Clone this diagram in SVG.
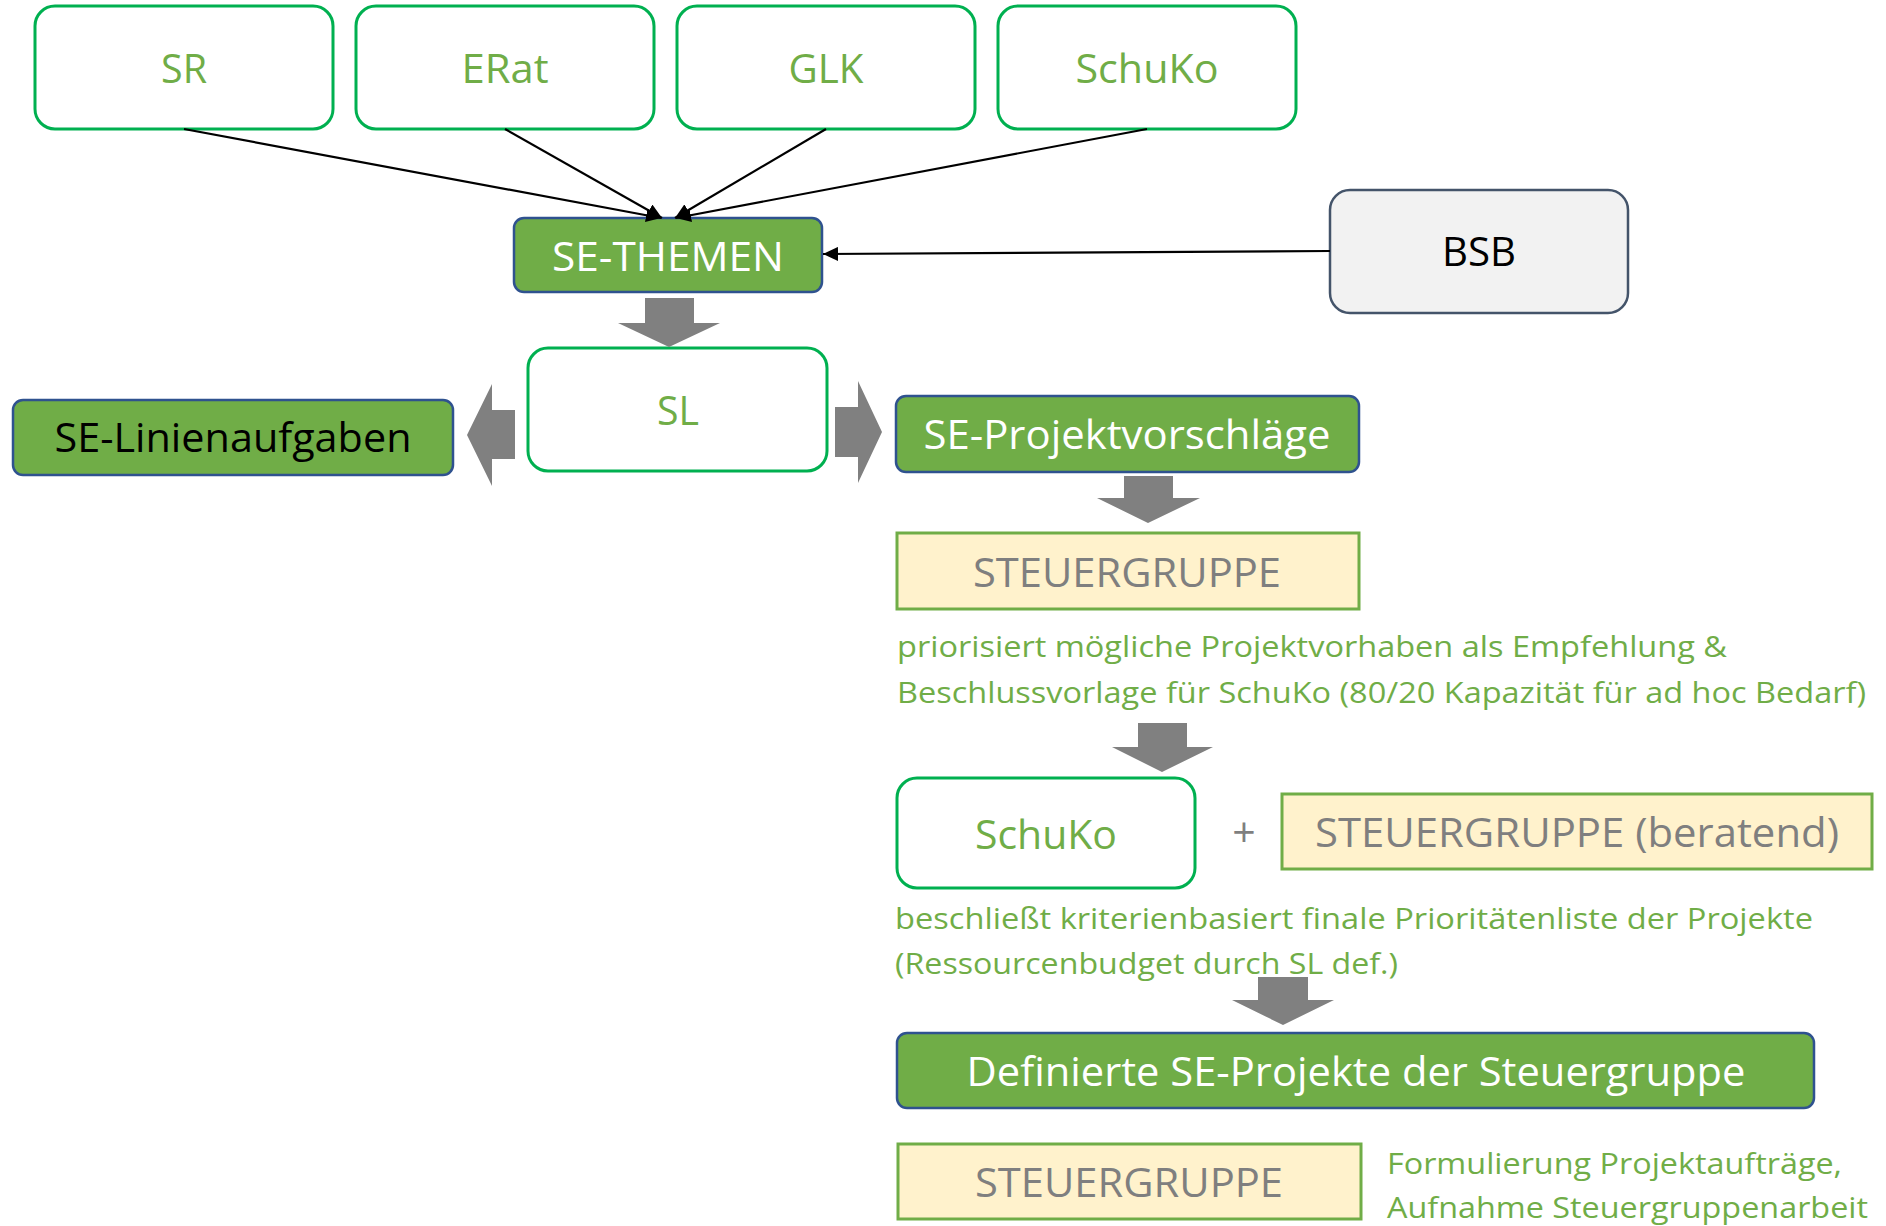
<svg xmlns="http://www.w3.org/2000/svg" width="1886" height="1226" viewBox="0 0 1886 1226">
<style>
.t{font-family:"Open Sans","Noto Sans","Liberation Sans",sans-serif}
.big{font-size:41px}
.sm{font-size:30px;fill:#70AD47}
.gtx{fill:#70AD47}
.wtx{fill:#FFFFFF}
.ktx{fill:#000000}
.ytx{fill:#7F7F7F}
.ob{fill:#FFFFFF;stroke:#00B050;stroke-width:3}
.gb{fill:#70AD47;stroke:#2F528F;stroke-width:2.5}
.yb{fill:#FFF2CC;stroke:#70AD47;stroke-width:3}
.bsb{fill:#F2F2F2;stroke:#44546A;stroke-width:2.5}
.ln{stroke:#000000;stroke-width:2.2;fill:none;marker-end:url(#ah)}
.ba{fill:#808080}
</style>
<defs>
<marker id="ah" markerUnits="userSpaceOnUse" markerWidth="16" markerHeight="14" refX="15" refY="7" orient="auto">
<path d="M0,0 L15,7 L0,14 Z" fill="#000000"/>
</marker>
</defs>
<rect width="1886" height="1226" fill="#FFFFFF"/>

<g id="node-SR">
<rect class="ob" x="35" y="6" width="298" height="123" rx="20"/>
<text class="t big gtx" x="184" y="83" text-anchor="middle" textLength="46" lengthAdjust="spacingAndGlyphs">SR</text>
</g>
<g id="node-ERat">
<rect class="ob" x="356" y="6" width="298" height="123" rx="20"/>
<text class="t big gtx" x="505" y="83" text-anchor="middle" textLength="87" lengthAdjust="spacingAndGlyphs">ERat</text>
</g>
<g id="node-GLK">
<rect class="ob" x="677" y="6" width="298" height="123" rx="20"/>
<text class="t big gtx" x="826" y="83" text-anchor="middle" textLength="75" lengthAdjust="spacingAndGlyphs">GLK</text>
</g>
<g id="node-SchuKo-top">
<rect class="ob" x="998" y="6" width="298" height="123" rx="20"/>
<text class="t big gtx" x="1147" y="83" text-anchor="middle" textLength="143" lengthAdjust="spacingAndGlyphs">SchuKo</text>
</g>
<g id="node-SE-THEMEN">
<rect class="gb" x="514" y="218" width="308" height="74" rx="10"/>
<text class="t big wtx" x="668" y="271" text-anchor="middle" textLength="232" lengthAdjust="spacingAndGlyphs">SE-THEMEN</text>
</g>
<g id="node-BSB">
<rect class="bsb" x="1330" y="190" width="298" height="123" rx="20"/>
<text class="t big ktx" x="1479" y="266" text-anchor="middle" textLength="74" lengthAdjust="spacingAndGlyphs">BSB</text>
</g>
<g id="node-SL">
<rect class="ob" x="528" y="348" width="299" height="123" rx="20"/>
<text class="t big gtx" x="678" y="425" text-anchor="middle" textLength="42" lengthAdjust="spacingAndGlyphs">SL</text>
</g>
<g id="node-SE-Linienaufgaben">
<rect class="gb" x="13" y="400" width="440" height="75" rx="10"/>
<text class="t big ktx" x="233" y="452" text-anchor="middle" textLength="357" lengthAdjust="spacingAndGlyphs">SE-Linienaufgaben</text>
</g>
<g id="node-SE-Projektvorschlaege">
<rect class="gb" x="896" y="396" width="463" height="76" rx="10"/>
<text class="t big wtx" x="1127" y="449" text-anchor="middle" textLength="407" lengthAdjust="spacingAndGlyphs">SE-Projektvorschläge</text>
</g>
<g id="node-STEUERGRUPPE-1">
<rect class="yb" x="897" y="533" width="462" height="76"/>
<text class="t big ytx" x="1127" y="587" text-anchor="middle" textLength="308" lengthAdjust="spacingAndGlyphs">STEUERGRUPPE</text>
</g>
<g id="text-priorisiert">
<text class="t sm" x="897" y="657" textLength="830" lengthAdjust="spacingAndGlyphs">priorisiert mögliche Projektvorhaben als Empfehlung &amp;</text>
<text class="t sm" x="897" y="703" textLength="969" lengthAdjust="spacingAndGlyphs">Beschlussvorlage für SchuKo (80/20 Kapazität für ad hoc Bedarf)</text>
</g>
<g id="node-SchuKo-2">
<rect class="ob" x="897" y="778" width="298" height="110" rx="20"/>
<text class="t big gtx" x="1046" y="849" text-anchor="middle" textLength="142" lengthAdjust="spacingAndGlyphs">SchuKo</text>
</g>
<g id="text-plus">
<text class="t big ytx" x="1244" y="847" text-anchor="middle">+</text>
</g>
<g id="node-STEUERGRUPPE-beratend">
<rect class="yb" x="1282" y="794" width="590" height="75"/>
<text class="t big ytx" x="1577" y="847" text-anchor="middle" textLength="524" lengthAdjust="spacingAndGlyphs">STEUERGRUPPE (beratend)</text>
</g>
<g id="text-beschliesst">
<text class="t sm" x="895" y="929" textLength="918" lengthAdjust="spacingAndGlyphs">beschließt kriterienbasiert finale Prioritätenliste der Projekte</text>
<text class="t sm" x="895" y="974" textLength="503" lengthAdjust="spacingAndGlyphs">(Ressourcenbudget durch SL def.)</text>
</g>
<g id="node-Definierte">
<rect class="gb" x="897" y="1033" width="917" height="75" rx="10"/>
<text class="t big wtx" x="1356" y="1086" text-anchor="middle" textLength="779" lengthAdjust="spacingAndGlyphs">Definierte SE-Projekte der Steuergruppe</text>
</g>
<g id="node-STEUERGRUPPE-3">
<rect class="yb" x="898" y="1144" width="463" height="75"/>
<text class="t big ytx" x="1129" y="1197" text-anchor="middle" textLength="308" lengthAdjust="spacingAndGlyphs">STEUERGRUPPE</text>
</g>
<g id="text-formulierung">
<text class="t sm" x="1387" y="1174" textLength="455" lengthAdjust="spacingAndGlyphs">Formulierung Projektaufträge,</text>
<text class="t sm" x="1387" y="1218" textLength="481" lengthAdjust="spacingAndGlyphs">Aufnahme Steuergruppenarbeit</text>
</g>

<g id="connectors">
<line class="ln" x1="184" y1="129" x2="661" y2="218"/>
<line class="ln" x1="505" y1="129" x2="662" y2="218"/>
<line class="ln" x1="826" y1="129" x2="675" y2="218"/>
<line class="ln" x1="1147" y1="129" x2="676" y2="218"/>
<line class="ln" x1="1330" y1="251" x2="823" y2="254"/>
<polygon class="ba" points="645,298 694,298 694,323 720,323 669,347 618,323 645,323"/>
<polygon class="ba" points="515,410 515,459 492,459 492,486 467,435 492,384 492,410"/>
<polygon class="ba" points="835,407 858,407 858,381 882,432 858,483 858,457 835,457"/>
<polygon class="ba" points="1124,476 1173,476 1173,498 1200,498 1148,523 1097,498 1124,498"/>
<polygon class="ba" points="1138,723 1187,723 1187,747 1213,747 1162,772 1112,747 1138,747"/>
<polygon class="ba" points="1258,977 1308,977 1308,1000 1334,1000 1283,1025 1232,1000 1258,1000"/>
</g>
</svg>
